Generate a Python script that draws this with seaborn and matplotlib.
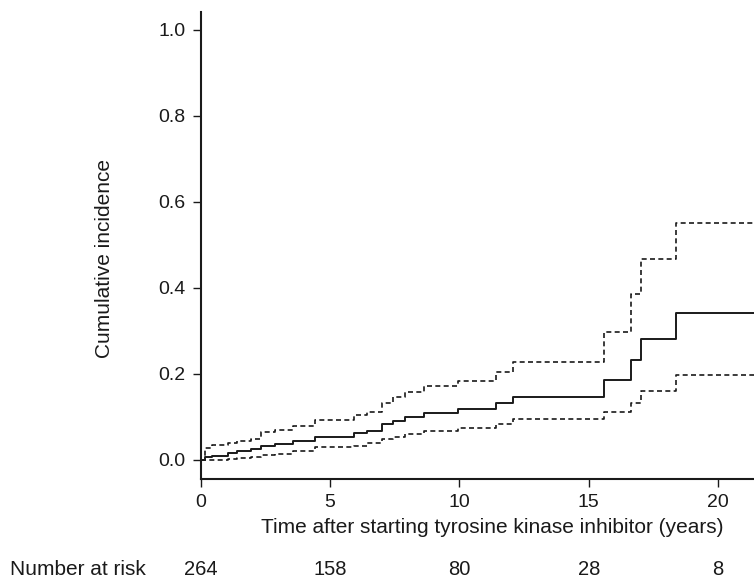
import matplotlib
matplotlib.use("Agg")
import matplotlib.pyplot as plt
import matplotlib.transforms as mtransforms
import seaborn as sns
import pandas as pd

# ---- data ----
times = [0.0, 0.17, 0.43, 1.06, 1.39, 1.94, 2.33, 2.87, 3.56, 4.42, 5.94, 6.42,
         7.02, 7.44, 7.90, 8.64, 9.96, 11.41, 12.06, 15.59, 16.64, 17.03, 18.38, 21.4]
estimate = [0.0, 0.006, 0.009, 0.016, 0.021, 0.026, 0.033, 0.037, 0.044, 0.054, 0.062, 0.068,
            0.083, 0.091, 0.099, 0.109, 0.119, 0.132, 0.147, 0.185, 0.233, 0.281, 0.342, 0.342]
upper_ci = [0.0, 0.027, 0.035, 0.039, 0.044, 0.050, 0.064, 0.070, 0.078, 0.093, 0.105, 0.112,
            0.132, 0.147, 0.157, 0.171, 0.184, 0.204, 0.227, 0.297, 0.386, 0.467, 0.552, 0.552]
lower_ci = [0.0, 0.0, 0.001, 0.003, 0.005, 0.008, 0.012, 0.015, 0.021, 0.030, 0.033, 0.039,
            0.048, 0.054, 0.060, 0.068, 0.075, 0.084, 0.095, 0.111, 0.132, 0.160, 0.197, 0.197]

x_ticks = [0, 5, 10, 15, 20]
y_ticks = [0.0, 0.2, 0.4, 0.6, 0.8, 1.0]
risk_times = [0, 5, 10, 15, 20]
risk_counts = [264, 158, 80, 28, 8]

df = pd.DataFrame({"t": times, "est": estimate, "lo": lower_ci, "hi": upper_ci})

sns.set_style("ticks")
plt.rcParams["font.family"] = ["Liberation Sans", "DejaVu Sans"]

W, H = 754, 581
fig = plt.figure(figsize=(W / 100, H / 100), dpi=100)
ax_left, ax_right, ax_bottom, ax_top = 200.7, 754, 479, 12
ax = fig.add_axes([ax_left / W, 1 - ax_bottom / H, (ax_right - ax_left) / W, (ax_bottom - ax_top) / H])

line_col = "#1a1a1a"
sns.lineplot(data=df, x="t", y="hi", ax=ax, drawstyle="steps-post", estimator=None,
             color=line_col, lw=1.2, linestyle=(0, (3, 2)))
sns.lineplot(data=df, x="t", y="lo", ax=ax, drawstyle="steps-post", estimator=None,
             color=line_col, lw=1.2, linestyle=(0, (3, 2)))
sns.lineplot(data=df, x="t", y="est", ax=ax, drawstyle="steps-post", estimator=None,
             color=line_col, lw=1.4)

ax.set_xlim(0, (ax_right - ax_left) / 25.87)
ax.set_ylim(-19 / 430, 448 / 430)
ax.set_xticks(x_ticks)
ax.set_xticklabels([str(v) for v in x_ticks])
ax.set_yticks(y_ticks)
ax.set_yticklabels([f"{v:.1f}" for v in y_ticks])

for s in ["top", "right"]:
    ax.spines[s].set_visible(False)
for s in ["left", "bottom"]:
    ax.spines[s].set_linewidth(1.5)
    ax.spines[s].set_color("#1a1a1a")

ax.tick_params(axis="both", direction="out", length=6, width=1.0, color="#1a1a1a",
               labelsize=14, labelcolor="#1a1a1a", pad=5)

ax.set_xlabel("Time after starting tyrosine kinase inhibitor (years)", fontsize=15, color="#1a1a1a")
ax.set_ylabel("Cumulative incidence", fontsize=15, color="#1a1a1a")
ax.xaxis.set_label_coords((492.5 - ax_left) / (ax_right - ax_left), (ax_bottom - 518) / (ax_bottom - ax_top))
ax.yaxis.set_label_coords((114 - ax_left) / (ax_right - ax_left), (ax_bottom - 258) / (ax_bottom - ax_top))

trans = mtransforms.blended_transform_factory(ax.transData, ax.transAxes)
risk_y = (ax_bottom - 575) / (ax_bottom - ax_top)
for t, n in zip(risk_times, risk_counts):
    ax.text(t, risk_y, str(n), transform=trans, ha="center", va="baseline",
            fontsize=14.5, color="#1a1a1a", clip_on=False)
fig.text(10 / W, 1 - 575 / H, "Number at risk", ha="left", va="baseline",
         fontsize=15, color="#1a1a1a")

fig.savefig("out.png", dpi=100)
